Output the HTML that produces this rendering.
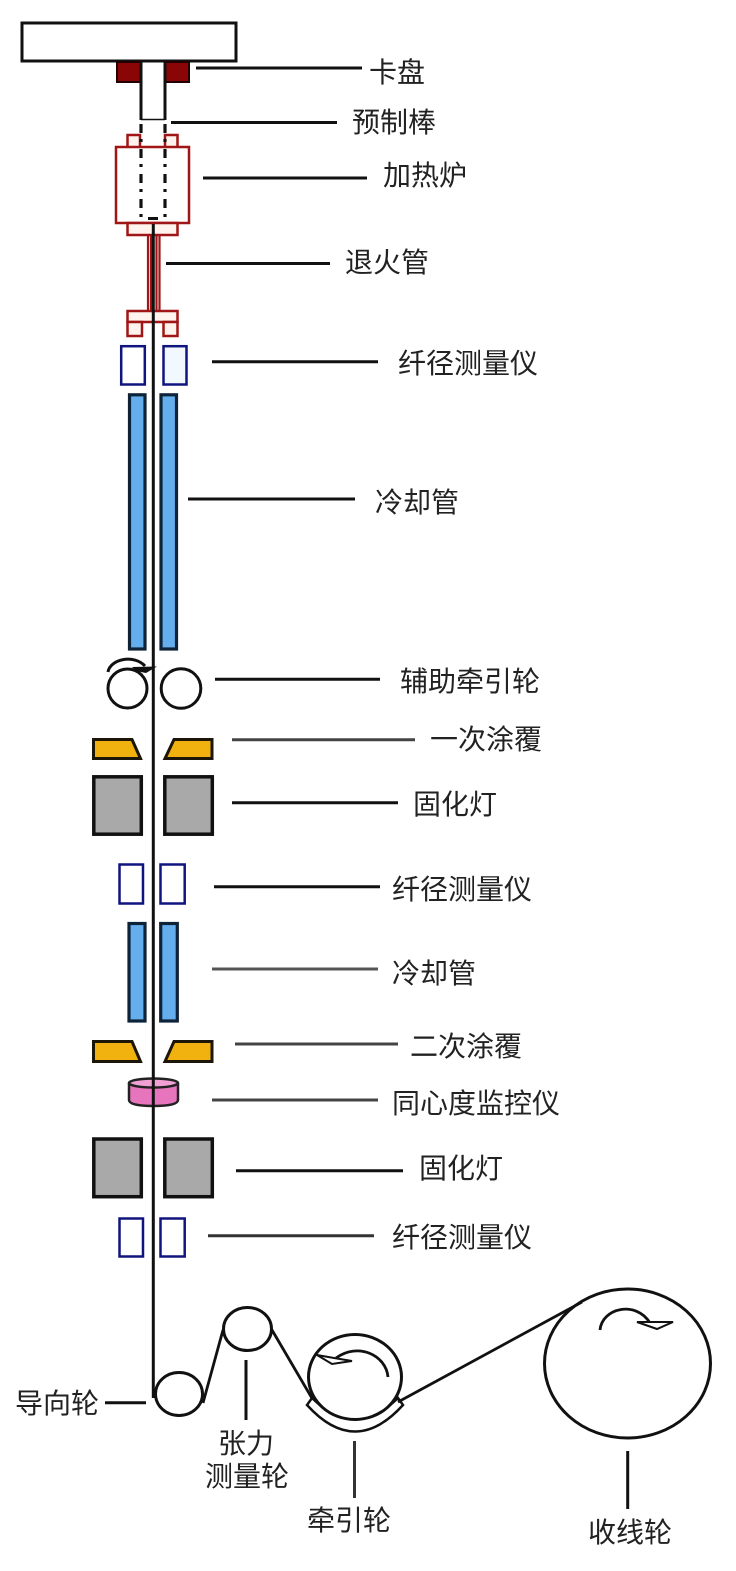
<!DOCTYPE html>
<html lang="zh">
<head>
<meta charset="utf-8">
<style>
html,body{margin:0;padding:0;background:#fff}
svg{display:block}
text{font-family:"Liberation Sans","Noto Sans CJK SC",sans-serif;font-size:28px;fill:#222}
</style>
</head>
<body>
<svg width="736" height="1571" viewBox="0 0 736 1571" xmlns="http://www.w3.org/2000/svg">
<rect width="736" height="1571" fill="#fff"/>

<!-- top plate -->
<rect x="22" y="23" width="214" height="38" fill="#fff" stroke="#111" stroke-width="3"/>
<!-- chuck -->
<rect x="117" y="62" width="24" height="20" fill="#8a0505" stroke="#200" stroke-width="2"/>
<rect x="165" y="62" width="24" height="20" fill="#8a0505" stroke="#200" stroke-width="2"/>
<!-- furnace -->
<g fill="#fff" stroke="#a01515" stroke-width="2.500">
<path d="M127.500 147V135H140V147" fill="#fff3ee"/>
<path d="M177.500 147V135H165V147" fill="#fff3ee"/>
<rect x="116" y="147" width="73" height="76"/>
<rect x="127.500" y="223" width="50" height="12" fill="#fff3ee"/>
<rect x="127.500" y="311" width="50" height="11" fill="#fff3ee"/>
<rect x="127.500" y="322" width="14.500" height="14" fill="#fff3ee"/>
<rect x="163.500" y="322" width="14" height="14" fill="#fff3ee"/>
</g>
<path d="M148 235V311M151 235V311M156.500 235V311M159.500 235V311" stroke="#a01515" stroke-width="2.200" fill="none"/>
<!-- preform -->
<path d="M141 62V120M165 62V120" stroke="#111" stroke-width="3" fill="none"/>
<path d="M141 119.500H165" stroke="#111" stroke-width="1.500"/>
<path d="M141 124V218M165 124V218" stroke="#111" stroke-width="3.200" fill="none" stroke-dasharray="9 6 3 7"/>
<path d="M148 218.500H158" stroke="#111" stroke-width="3"/>

<!-- measuring boxes -->
<g fill="#fff" stroke="#10147f" stroke-width="2.500">
<rect x="121.200" y="346.200" width="23.600" height="38.300"/>
<rect x="163.500" y="346.200" width="23" height="38.300" fill="#f2f8ff"/>
<rect x="119.500" y="864.500" width="23.500" height="39"/>
<rect x="160.500" y="864.500" width="24.200" height="39"/>
<rect x="119.500" y="1218.500" width="23.500" height="38"/>
<rect x="160.500" y="1218.500" width="24.200" height="38"/>
</g>
<!-- cooling tubes -->
<g fill="#64aeee" stroke="#0e2238" stroke-width="3.200">
<rect x="129.500" y="394.800" width="15.500" height="254.200"/>
<rect x="161" y="394.800" width="15.500" height="254.200"/>
<rect x="129" y="923.500" width="16" height="97.500"/>
<rect x="160.700" y="923.500" width="16.600" height="97.500"/>
</g>
<!-- auxiliary rollers -->
<circle cx="127.500" cy="688.500" r="19.500" fill="#fff" stroke="#111" stroke-width="3"/>
<circle cx="181" cy="688.500" r="19.800" fill="#fff" stroke="#111" stroke-width="3"/>
<path d="M108 672C110 659 134 654 145 666" fill="none" stroke="#111" stroke-width="3"/>
<path d="M132 667L157 666.500L146 673L136 671Z" fill="#111"/>

<!-- coating -->
<g fill="#f1b20f" stroke="#1c1608" stroke-width="3">
<path d="M93.500 739.500H132L140.500 758.500H93.500Z"/>
<path d="M212 739.500H174L165 758.500H212Z"/>
<path d="M93.500 1041.500H132L140.500 1061.500H93.500Z"/>
<path d="M212 1041.500H174L165 1061.500H212Z"/>
</g>
<!-- lamps -->
<g fill="#a9a9a9" stroke="#111" stroke-width="3.500">
<rect x="93.800" y="776.800" width="47.500" height="57.400"/>
<rect x="164.800" y="776.800" width="47.500" height="57.400"/>
<rect x="93.800" y="1139" width="47.500" height="57.700"/>
<rect x="164.800" y="1139" width="47.500" height="57.700"/>
</g>
<!-- concentricity -->
<path d="M129 1083V1100Q129 1106 153.500 1106Q178 1106 178 1100V1083" fill="#e675bd" stroke="#222" stroke-width="2.500"/>
<ellipse cx="153.500" cy="1083" rx="24.500" ry="4.500" fill="#f0a0d4" stroke="#222" stroke-width="2.500"/>

<!-- fibre -->
<path d="M153.300 224V1398" stroke="#111" stroke-width="3" fill="none"/>

<!-- bottom wheels -->
<ellipse cx="179" cy="1394" rx="23.500" ry="21.500" fill="#fff" stroke="#111" stroke-width="3"/>
<ellipse cx="247.500" cy="1329" rx="24" ry="21.500" fill="#fff" stroke="#111" stroke-width="3"/>
<path d="M203 1403L223 1330" stroke="#111" stroke-width="2.800"/>
<path d="M272 1330L313 1400" stroke="#111" stroke-width="2.800"/>
<path d="M307 1405Q355 1458 403 1405L398 1398Q355 1440 312 1398Z" fill="#fff" stroke="#111" stroke-width="2.500"/>
<ellipse cx="355" cy="1377" rx="46.500" ry="42.500" fill="#fff" stroke="#111" stroke-width="3"/>
<path d="M388 1377C386 1355 358 1342 336 1358" fill="none" stroke="#111" stroke-width="2.800"/>
<path d="M317 1355L332 1364L352 1361L334 1358Z" fill="#fff" stroke="#111" stroke-width="2"/>
<ellipse cx="627.500" cy="1363.500" rx="83" ry="74.500" fill="#fff" stroke="#111" stroke-width="3"/>
<path d="M398 1402L582 1302" stroke="#111" stroke-width="2.800"/>
<path d="M600 1330C602 1308 636 1300 650 1323" fill="none" stroke="#111" stroke-width="2.800"/>
<path d="M637 1322L673 1322L657 1329Z" fill="#fff" stroke="#111" stroke-width="2"/>

<!-- leaders -->
<g stroke="#111" stroke-width="3" fill="none">
<path d="M196 68H362"/>
<path d="M171 122.500H337"/>
<path d="M203 178H367"/>
<path d="M166 263.500H330"/>
<path d="M212 361.700H378"/>
<path d="M188 499H355"/>
<path d="M215 679.300H380"/>
<path d="M232 739.700H415" stroke="#444"/>
<path d="M232 802.700H398"/>
<path d="M214 886.700H380"/>
<path d="M212 969H378" stroke="#555"/>
<path d="M235 1044H398" stroke="#444"/>
<path d="M212 1100H378" stroke="#444"/>
<path d="M236 1170.700H403"/>
<path d="M208 1235.700H374" stroke="#333"/>
<path d="M105 1402.700H146"/>
<path d="M246 1360V1420"/>
<path d="M354.500 1441V1498" stroke="#333"/>
<path d="M627.700 1451V1509"/>
</g>

<!-- labels -->
<text x="369" y="82">卡盘</text>
<text x="352" y="132">预制棒</text>
<text x="383" y="185">加热炉</text>
<text x="345" y="272">退火管</text>
<text x="398" y="373">纤径测量仪</text>
<text x="375" y="512">冷却管</text>
<text x="400" y="691">辅助牵引轮</text>
<text x="430" y="749">一次涂覆</text>
<text x="413" y="814">固化灯</text>
<text x="392" y="899">纤径测量仪</text>
<text x="392" y="983">冷却管</text>
<text x="410" y="1056">二次涂覆</text>
<text x="392" y="1113">同心度监控仪</text>
<text x="419" y="1178">固化灯</text>
<text x="392" y="1247">纤径测量仪</text>
<text x="15" y="1413">导向轮</text>
<text x="218" y="1453">张力</text>
<text x="205" y="1486">测量轮</text>
<text x="307" y="1530">牵引轮</text>
<text x="588" y="1542">收线轮</text>
</svg>
</body>
</html>
